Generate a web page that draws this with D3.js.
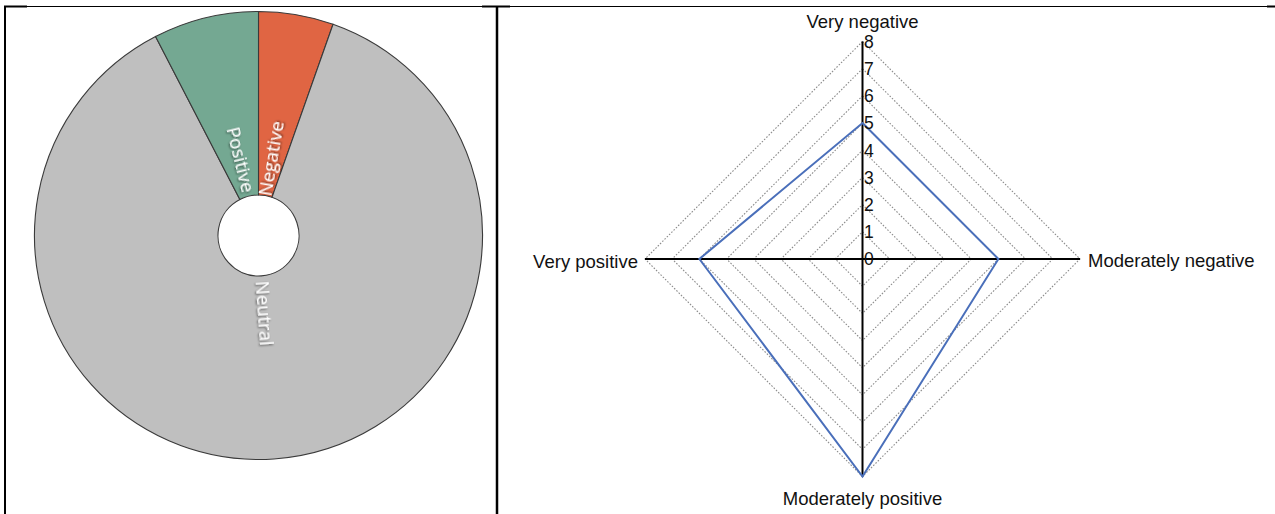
<!DOCTYPE html>
<html>
<head>
<meta charset="utf-8">
<script src="https://cdn.jsdelivr.net/npm/d3@7"></script>
<style>
  html, body { margin: 0; padding: 0; background: #fff; }
  svg { display: block; }
</style>
</head>
<body>
<svg id="chart" width="1275" height="514"></svg>
<script>
// Sentiment share (percent) for the donut
const sentimentLabels = ["Negative", "Neutral", "Positive"];
const sentimentShares = [5.4, 87.0, 7.6];

// Intensity scores for the radar
const radarAxes = ["Very negative", "Moderately negative", "Moderately positive", "Very positive"];
const radarValues = [5, 5, 8, 6];
const radarTicks = [0, 1, 2, 3, 4, 5, 6, 7, 8];

const svg = d3.select("#chart");

// ---- table frame ----
const frame = svg.append("g").attr("stroke", "#000");
frame.append("line").attr("x1", 4).attr("x2", 1275).attr("y1", 6.5).attr("y2", 6.5).attr("stroke-width", 1);
frame.append("line").attr("x1", 4).attr("x2", 27).attr("y1", 6.5).attr("y2", 6.5).attr("stroke-width", 2);
frame.append("line").attr("x1", 482).attr("x2", 510).attr("y1", 6.5).attr("y2", 6.5).attr("stroke-width", 2);
frame.append("line").attr("x1", 1267).attr("x2", 1275).attr("y1", 6.5).attr("y2", 6.5).attr("stroke-width", 2);
frame.append("line").attr("x1", 5).attr("x2", 5).attr("y1", 6).attr("y2", 514).attr("stroke-width", 2);
frame.append("line").attr("x1", 497).attr("x2", 497).attr("y1", 6).attr("y2", 514).attr("stroke-width", 2.5);

// ---- donut ----
const defs = svg.append("defs");
const shadow = defs.append("filter").attr("id", "labelShadow")
  .attr("x", "-20%").attr("y", "-20%").attr("width", "140%").attr("height", "140%");
shadow.append("feDropShadow").attr("dx", 1).attr("dy", 1).attr("stdDeviation", 0.8)
  .attr("flood-color", "#000").attr("flood-opacity", 0.6);

const sliceColor = d3.scaleOrdinal().domain(sentimentLabels).range(["#e06543", "#bfbfbf", "#74a892"]);
const donutData = sentimentLabels.map((k, i) => ({ label: k, value: sentimentShares[i] }));
const pie = d3.pie().sort(null).value(d => d.value);
const arcs = pie(donutData);
const outerR = 224, innerR = 40.5, labelR = 78;
const arc = d3.arc().innerRadius(innerR).outerRadius(outerR);

const donut = svg.append("g").attr("transform", "translate(258.5,235.5)");
donut.selectAll("path.slice").data(arcs).join("path")
  .attr("class", "slice")
  .attr("d", arc)
  .attr("fill", d => sliceColor(d.data.label))
  .attr("stroke", "#3a3a3a")
  .attr("stroke-width", 1.1);

donut.selectAll("text.slice-label").data(arcs).join("text")
  .attr("class", "slice-label")
  .attr("transform", d => {
    const a = (d.startAngle + d.endAngle) / 2 * 180 / Math.PI;
    return `rotate(${a - 90}) translate(${labelR},0) rotate(${a < 180 ? 0 : 180})`;
  })
  .attr("text-anchor", "middle")
  .attr("dy", "0.35em")
  .attr("font-family", "'Open Sans', sans-serif")
  .attr("font-size", 18.5)
  .attr("fill", "#fff")
  .attr("filter", "url(#labelShadow)")
  .text(d => d.data.label);

// ---- radar ----
const cx = 862.5, cy = 259;
const r = d3.scaleLinear().domain([0, 8]).range([0, 217.5]);
const angle = d3.scaleOrdinal().domain(radarAxes).range(radarAxes.map((_, i) => i * 2 * Math.PI / radarAxes.length));
const radar = svg.append("g").attr("transform", `translate(${cx},${cy})`);

// dotted grid rings
const ring = d3.lineRadial().angle(d => angle(d)).curve(d3.curveLinearClosed);
radar.selectAll("path.ring").data(radarTicks.filter(t => t > 0)).join("path")
  .attr("class", "ring")
  .attr("d", t => ring.radius(r(t))(radarAxes))
  .attr("fill", "none")
  .attr("stroke", "#8c8c8c")
  .attr("stroke-width", 1.1)
  .attr("stroke-dasharray", "1.6,1.6");

// spokes
radar.selectAll("line.spoke").data(radarAxes).join("line")
  .attr("class", "spoke")
  .attr("x1", 0).attr("y1", 0)
  .attr("x2", d => r(8) * Math.sin(angle(d)))
  .attr("y2", d => -r(8) * Math.cos(angle(d)))
  .attr("stroke", "#000")
  .attr("stroke-width", 2);

// data polygon
const valueLine = d3.lineRadial()
  .angle((d, i) => angle(radarAxes[i]))
  .radius(d => r(d))
  .curve(d3.curveLinearClosed);
radar.append("path")
  .attr("d", valueLine(radarValues))
  .attr("fill", "none")
  .attr("stroke", "#4a6fba")
  .attr("stroke-width", 2)
  .attr("stroke-linejoin", "miter");

// tick labels on the vertical spoke
radar.selectAll("text.tick").data(radarTicks).join("text")
  .attr("class", "tick")
  .attr("x", 1.5)
  .attr("y", t => -r(t))
  .attr("dy", "0.36em")
  .attr("font-family", "'Liberation Sans', Arial, sans-serif")
  .attr("font-size", 17.5)
  .attr("fill", "#111")
  .text(t => t);

// axis captions
const captionPos = {
  "Very negative": { x: 0, y: -r(8) - 14, anchor: "middle", dy: "0" },
  "Moderately negative": { x: r(8) + 8, y: 2, anchor: "start", dy: "0.35em" },
  "Moderately positive": { x: 0, y: r(8) + 15, anchor: "middle", dy: "0.71em" },
  "Very positive": { x: -r(8) - 7, y: 3, anchor: "end", dy: "0.35em" }
};
radar.selectAll("text.caption").data(radarAxes).join("text")
  .attr("class", "caption")
  .attr("x", d => captionPos[d].x)
  .attr("y", d => captionPos[d].y)
  .attr("dy", d => captionPos[d].dy)
  .attr("text-anchor", d => captionPos[d].anchor)
  .attr("font-family", "'Liberation Sans', Arial, sans-serif")
  .attr("font-size", 18.5)
  .attr("fill", "#111")
  .text(d => d);
</script>
</body>
</html>
